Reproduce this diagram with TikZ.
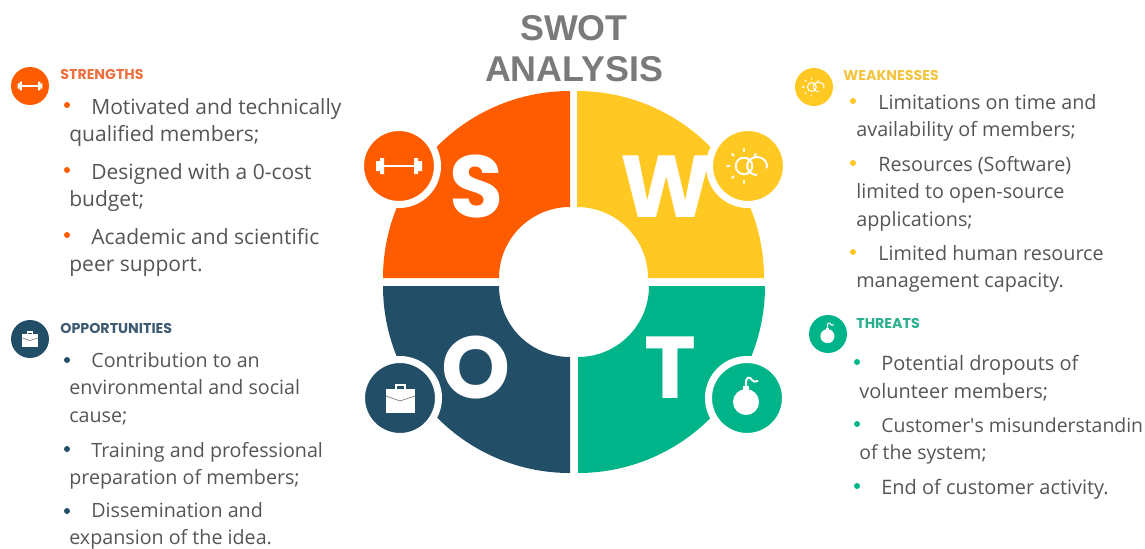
\documentclass[tikz,border=0pt]{standalone}
\usepackage{fontspec}
\setmainfont{Open Sans}
\newfontfamily\headfont{Poppins}
\newfontfamily\titlefont{Liberation Sans}

\definecolor{swotS}{HTML}{FF5C00}
\definecolor{swotW}{HTML}{FFC823}
\definecolor{swotO}{HTML}{234E68}
\definecolor{swotT}{HTML}{00B48A}
\definecolor{headS}{HTML}{EC7040}
\definecolor{headW}{HTML}{F2C440}
\definecolor{headO}{HTML}{3D5A73}
\definecolor{headT}{HTML}{2DB090}
\definecolor{txtgray}{HTML}{555555}
\definecolor{titlegray}{HTML}{7A7A7A}

\newcommand{\ind}{\hspace*{0.44cm}}

\tikzset{
    itemtxt/.style={anchor=north west, align=left, inner sep=0pt, text=txtgray,
        font=\fontsize{#1}{15.6}\selectfont},
    headtxt/.style={anchor=west, inner sep=0pt, font=\headfont\bfseries\fontsize{8.1}{10}\selectfont},
    letter/.style={text=white, inner sep=0pt, font=\headfont\bfseries\fontsize{50}{50}\selectfont},
    bullet/.style={circle, inner sep=0pt, minimum size=0.12cm},
    bigdisc/.style={circle, inner sep=0pt, minimum size=1.54cm, line width=0.14cm, draw=white},
    smalldisc/.style={circle, inner sep=0pt, minimum size=0.76cm},
    iconline/.style={line width=1.1pt},
    bigicon/.style={scale=1},
    smallicon/.style={scale=0.54, iconline/.style={line width=0.6pt}},
    dumbbell/.pic={
        \draw[white, iconline] (-20,0) -- (20,0);
        \fill[white] (-19,-8) rectangle (-15,8) (15,-8) rectangle (19,8);
        \fill[white] (-23,-5) rectangle (-19,5) (19,-5) rectangle (23,5);
    },
    sunrings/.pic={
        \draw[white, iconline] (-4,0) circle (8.3);
        \draw[white, iconline] (9,0) ++(15:10 and 9) arc (15:-270:10 and 9);
        \foreach \a in {90,135,180,225,270,315}
            \draw[white, iconline, line cap=round] (-4,0) ++(\a:14.5) -- ++(\a:2.5);
    },
    briefcase/.pic={
        \fill[white] (-14,-9) rectangle (15,15);
        \draw[white, iconline] (-4,-9) -- (-4,-13) -- (5,-13) -- (5,-9);
        \draw[gray, line width=0.4pt] (-14,-2) -- (0,3) -- (15,-2);
    },
    bomb/.pic={
        \fill[white] (-1,4) circle (13);
        \fill[white] (-4,-12) rectangle (2,-7);
        \draw[white, iconline] (-1,-12) .. controls (-2,-22) and (3,-22) .. (5,-18) .. controls (6,-16) and (8,-16) .. (11,-17);
    }
}

\begin{document}
\begin{tikzpicture}[x=0.02cm, y=-0.02cm]
        \useasboundingbox (0,0) rectangle (1145,548);

        % ~~~~ Title ~~~~ %
        \node[align=center, inner sep=0pt, text=titlegray, font=\titlefont\bfseries\fontsize{20.4}{23.6}\selectfont]
            (title) at (574,48.5) {SWOT\\ANALYSIS};

        % ~~~~ Wheel ~~~~ %
        \fill[swotS] (570,278) ++(-187,0) arc (180:270:187) -- ++(0,116) arc (270:180:71) -- cycle;
        \fill[swotW] (577,278) ++(0,-187) arc (270:360:187) -- ++(-116,0) arc (360:270:71) -- cycle;
        \fill[swotO] (570,286) ++(-187,0) arc (180:90:187) -- ++(0,-116) arc (90:180:71) -- cycle;
        \fill[swotT] (578,286) ++(0,187) arc (90:0:187) -- ++(-116,0) arc (0:90:71) -- cycle;

        \node[letter] (letS) at (477,187) {S};
        \node[letter] (letW) at (667,187) {W};
        \node[letter] (letO) at (476,368) {O};
        \node[letter] (letT) at (670,368) {T};

        % ~~~~ Icons ~~~~ %
        \node[bigdisc, fill=swotS] (discS) at (399,166) {};
        \node[bigdisc, fill=swotW] (discW) at (748,166) {};
        \node[bigdisc, fill=swotO] (discO) at (400,398) {};
        \node[bigdisc, fill=swotT] (discT) at (747,398) {};
        \pic[bigicon] at (discS) {dumbbell};
        \pic[bigicon] at (discW) {sunrings};
        \pic[bigicon] at (discO) {briefcase};
        \pic[bigicon] at (discT) {bomb};

        \node[smalldisc, fill=swotS] (miniS) at (30,86) {};
        \node[smalldisc, fill=swotW] (miniW) at (814,87) {};
        \node[smalldisc, fill=swotO] (miniO) at (30,339) {};
        \node[smalldisc, fill=swotT] (miniT) at (828,334) {};
        \pic[smallicon] at (miniS) {dumbbell};
        \pic[smallicon] at (miniW) {sunrings};
        \pic[smallicon] at (miniO) {briefcase};
        \pic[smallicon] at (miniT) {bomb};

        % ~~~~ Strengths ~~~~ %
        \node[headtxt, text=headS] (headS) at (60,74) {STRENGTHS};
        \foreach \y [count=\n] in {105,170,235}
            \node[bullet, fill=swotS] (bulS\n) at (67,\y) {};
        \node[itemtxt=11.95] (itemS1) at (69,98) {\ind Motivated and technically\\qualified members;};
        \node[itemtxt=11.95] (itemS2) at (69,163) {\ind Designed with a 0-cost\\budget;};
        \node[itemtxt=11.95] (itemS3) at (69,228) {\ind Academic and scientific\\peer support.};

        % ~~~~ Weaknesses ~~~~ %
        \node[headtxt, text=headW] (headW) at (843,75) {WEAKNESSES};
        \foreach \y [count=\n] in {101,163,252}
            \node[bullet, fill=swotW] (bulW\n) at (853,\y) {};
        \node[itemtxt=11.25] (itemW1) at (856,94) {\ind Limitations on time and\\availability of members;};
        \node[itemtxt=11.25] (itemW2) at (856,156) {\ind Resources (Software)\\limited to open-source\\applications;};
        \node[itemtxt=11.25] (itemW3) at (856,245) {\ind Limited human resource\\management capacity.};

        % ~~~~ Opportunities ~~~~ %
        \node[headtxt, text=headO] (headO) at (60,328) {OPPORTUNITIES};
        \foreach \y [count=\n] in {360,449,511}
            \node[bullet, fill=swotO] (bulO\n) at (67,\y) {};
        \node[itemtxt=11.2] (itemO1) at (69,352) {\ind Contribution to an\\environmental and social\\cause;};
        \node[itemtxt=11.2] (itemO2) at (69,442) {\ind Training and professional\\preparation of members;};
        \node[itemtxt=11.2] (itemO3) at (69,502) {\ind Dissemination and\\expansion of the idea.};

        % ~~~~ Threats ~~~~ %
        \node[headtxt, text=headT] (headT) at (856,323) {THREATS};
        \foreach \y [count=\n] in {362,424,486}
            \node[bullet, fill=swotT] (bulT\n) at (857,\y) {};
        \node[itemtxt=11.35] (itemT1) at (859,355) {\ind Potential dropouts of\\volunteer members;};
        \node[itemtxt=11.05] (itemT2) at (859,417) {\ind Customer\textquotesingle s misunderstandin\\of the system;};
        \node[itemtxt=11.35] (itemT3) at (859,479) {\ind End of customer activity.};
    \end{tikzpicture}
\end{document}
